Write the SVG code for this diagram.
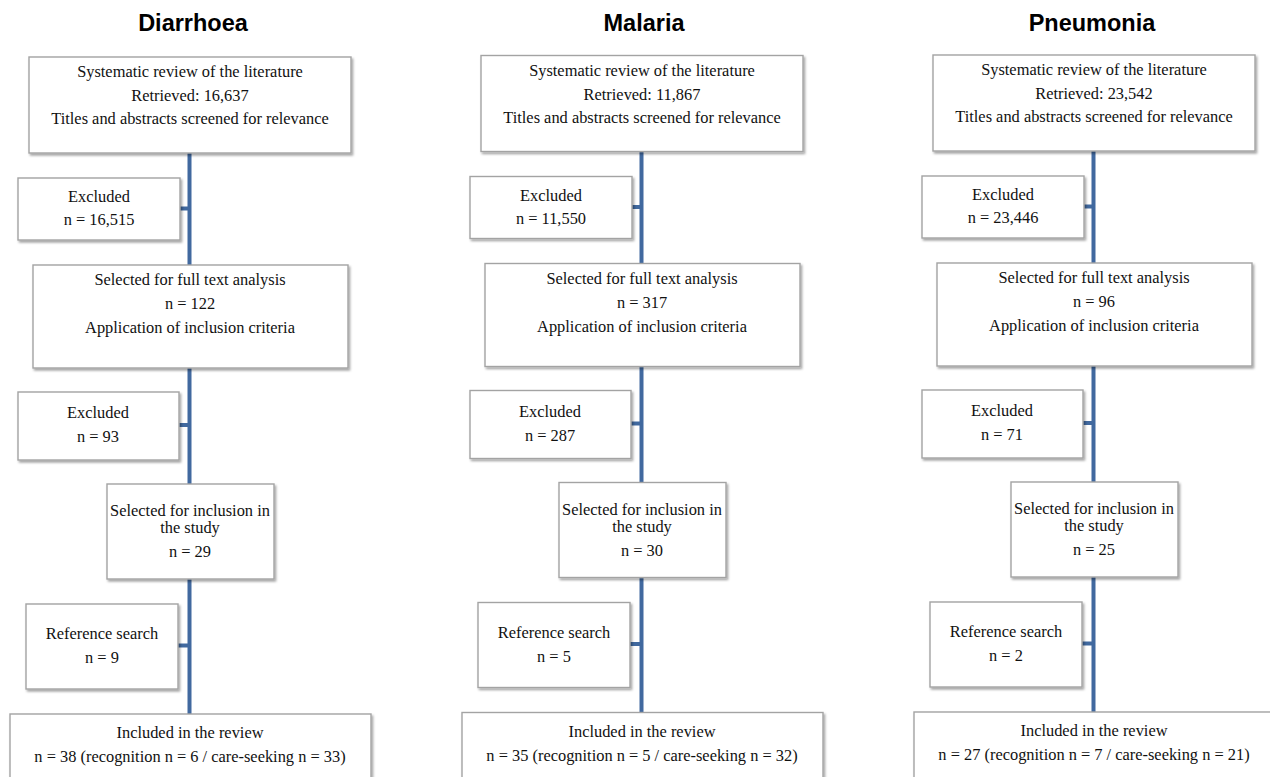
<svg xmlns="http://www.w3.org/2000/svg" width="1270" height="777" viewBox="0 0 1270 777">
<style>
.box{fill:#fff;stroke:#a3a3a3;stroke-width:1.4;filter:url(#sh)}
.t{font-family:"Liberation Serif","Times New Roman",serif;font-size:16.4px;fill:#111;text-anchor:middle}
.h{font-family:"Liberation Sans",Arial,sans-serif;font-size:23.5px;font-weight:bold;fill:#000;text-anchor:middle}
.ln{stroke:#41699f;stroke-width:4;fill:none}
</style>
<defs>
<filter id="sh" x="-10%" y="-10%" width="120%" height="130%">
<feDropShadow dx="1.5" dy="2" stdDeviation="1.2" flood-color="#000" flood-opacity="0.35"/>
</filter>
</defs>
<rect width="1270" height="777" fill="#fff"/>

<!-- Column 1: Diarrhoea -->
<g id="col-diarrhoea">
<text class="h" x="193" y="31" id="title-diarrhoea">Diarrhoea</text>
<g id="connectors-diarrhoea">
<line class="ln" x1="189.5" y1="153" x2="189.5" y2="714"/>
<line class="ln" x1="180" y1="208.5" x2="189.5" y2="208.5"/>
<line class="ln" x1="179" y1="425" x2="189.5" y2="425"/>
<line class="ln" x1="178" y1="645.5" x2="189.5" y2="645.5"/>
</g>
<g id="d-review"><rect class="box" x="29" y="57" width="322" height="96"/>
<text class="t" x="190" y="77">Systematic review of the literature</text>
<text class="t" x="190" y="101">Retrieved: 16,637</text>
<text class="t" x="190" y="124">Titles and abstracts screened for relevance</text></g>
<g id="d-excluded1"><rect class="box" x="18" y="178" width="162" height="62"/>
<text class="t" x="99" y="202">Excluded</text>
<text class="t" x="99" y="225">n = 16,515</text></g>
<g id="d-fulltext"><rect class="box" x="33" y="265" width="315" height="103"/>
<text class="t" x="190" y="285">Selected for full text analysis</text>
<text class="t" x="190" y="309">n = 122</text>
<text class="t" x="190" y="333">Application of inclusion criteria</text></g>
<g id="d-excluded2"><rect class="box" x="18" y="392" width="161" height="68"/>
<text class="t" x="98" y="418">Excluded</text>
<text class="t" x="98" y="442">n = 93</text></g>
<g id="d-selected"><rect class="box" x="107" y="484" width="167" height="95"/>
<text class="t" x="190" y="516">Selected for inclusion in</text>
<text class="t" x="190" y="533">the study</text>
<text class="t" x="190" y="557">n = 29</text></g>
<g id="d-refsearch"><rect class="box" x="26" y="604" width="152" height="85"/>
<text class="t" x="102" y="639">Reference search</text>
<text class="t" x="102" y="663">n = 9</text></g>
<g id="d-included"><rect class="box" x="10" y="714" width="361" height="72"/>
<text class="t" x="190" y="738">Included in the review</text>
<text class="t" x="190" y="762">n = 38 (recognition n = 6 / care-seeking n = 33)</text></g>
</g>

<!-- Column 2: Malaria -->
<g id="col-malaria" transform="translate(452,-1.5)">
<text class="h" x="192" y="32.5" id="title-malaria">Malaria</text>
<g id="connectors-malaria">
<line class="ln" x1="189.5" y1="153" x2="189.5" y2="714"/>
<line class="ln" x1="180" y1="208.5" x2="189.5" y2="208.5"/>
<line class="ln" x1="179" y1="425" x2="189.5" y2="425"/>
<line class="ln" x1="178" y1="645.5" x2="189.5" y2="645.5"/>
</g>
<g id="m-review"><rect class="box" x="29" y="57" width="322" height="96"/>
<text class="t" x="190" y="77">Systematic review of the literature</text>
<text class="t" x="190" y="101">Retrieved: 11,867</text>
<text class="t" x="190" y="124">Titles and abstracts screened for relevance</text></g>
<g id="m-excluded1"><rect class="box" x="18" y="178" width="162" height="62"/>
<text class="t" x="99" y="202">Excluded</text>
<text class="t" x="99" y="225">n = 11,550</text></g>
<g id="m-fulltext"><rect class="box" x="33" y="265" width="315" height="103"/>
<text class="t" x="190" y="285">Selected for full text analysis</text>
<text class="t" x="190" y="309">n = 317</text>
<text class="t" x="190" y="333">Application of inclusion criteria</text></g>
<g id="m-excluded2"><rect class="box" x="18" y="392" width="161" height="68"/>
<text class="t" x="98" y="418">Excluded</text>
<text class="t" x="98" y="442">n = 287</text></g>
<g id="m-selected"><rect class="box" x="107" y="484" width="167" height="95"/>
<text class="t" x="190" y="516">Selected for inclusion in</text>
<text class="t" x="190" y="533">the study</text>
<text class="t" x="190" y="557">n = 30</text></g>
<g id="m-refsearch"><rect class="box" x="26" y="604" width="152" height="85"/>
<text class="t" x="102" y="639">Reference search</text>
<text class="t" x="102" y="663">n = 5</text></g>
<g id="m-included"><rect class="box" x="10" y="714" width="361" height="72"/>
<text class="t" x="190" y="738">Included in the review</text>
<text class="t" x="190" y="762">n = 35 (recognition n = 5 / care-seeking n = 32)</text></g>
</g>

<!-- Column 3: Pneumonia -->
<g id="col-pneumonia" transform="translate(904,-2)">
<text class="h" x="188" y="33" id="title-pneumonia">Pneumonia</text>
<g id="connectors-pneumonia">
<line class="ln" x1="189.5" y1="153" x2="189.5" y2="714"/>
<line class="ln" x1="180" y1="208.5" x2="189.5" y2="208.5"/>
<line class="ln" x1="179" y1="425" x2="189.5" y2="425"/>
<line class="ln" x1="178" y1="645.5" x2="189.5" y2="645.5"/>
</g>
<g id="p-review"><rect class="box" x="29" y="57" width="322" height="96"/>
<text class="t" x="190" y="77">Systematic review of the literature</text>
<text class="t" x="190" y="101">Retrieved: 23,542</text>
<text class="t" x="190" y="124">Titles and abstracts screened for relevance</text></g>
<g id="p-excluded1"><rect class="box" x="18" y="178" width="162" height="62"/>
<text class="t" x="99" y="202">Excluded</text>
<text class="t" x="99" y="225">n = 23,446</text></g>
<g id="p-fulltext"><rect class="box" x="33" y="265" width="315" height="103"/>
<text class="t" x="190" y="285">Selected for full text analysis</text>
<text class="t" x="190" y="309">n = 96</text>
<text class="t" x="190" y="333">Application of inclusion criteria</text></g>
<g id="p-excluded2"><rect class="box" x="18" y="392" width="161" height="68"/>
<text class="t" x="98" y="418">Excluded</text>
<text class="t" x="98" y="442">n = 71</text></g>
<g id="p-selected"><rect class="box" x="107" y="484" width="167" height="95"/>
<text class="t" x="190" y="516">Selected for inclusion in</text>
<text class="t" x="190" y="533">the study</text>
<text class="t" x="190" y="557">n = 25</text></g>
<g id="p-refsearch"><rect class="box" x="26" y="604" width="152" height="85"/>
<text class="t" x="102" y="639">Reference search</text>
<text class="t" x="102" y="663">n = 2</text></g>
<g id="p-included"><rect class="box" x="10" y="714" width="361" height="72"/>
<text class="t" x="190" y="738">Included in the review</text>
<text class="t" x="190" y="762">n = 27 (recognition n = 7 / care-seeking n = 21)</text></g>
</g>
</svg>
